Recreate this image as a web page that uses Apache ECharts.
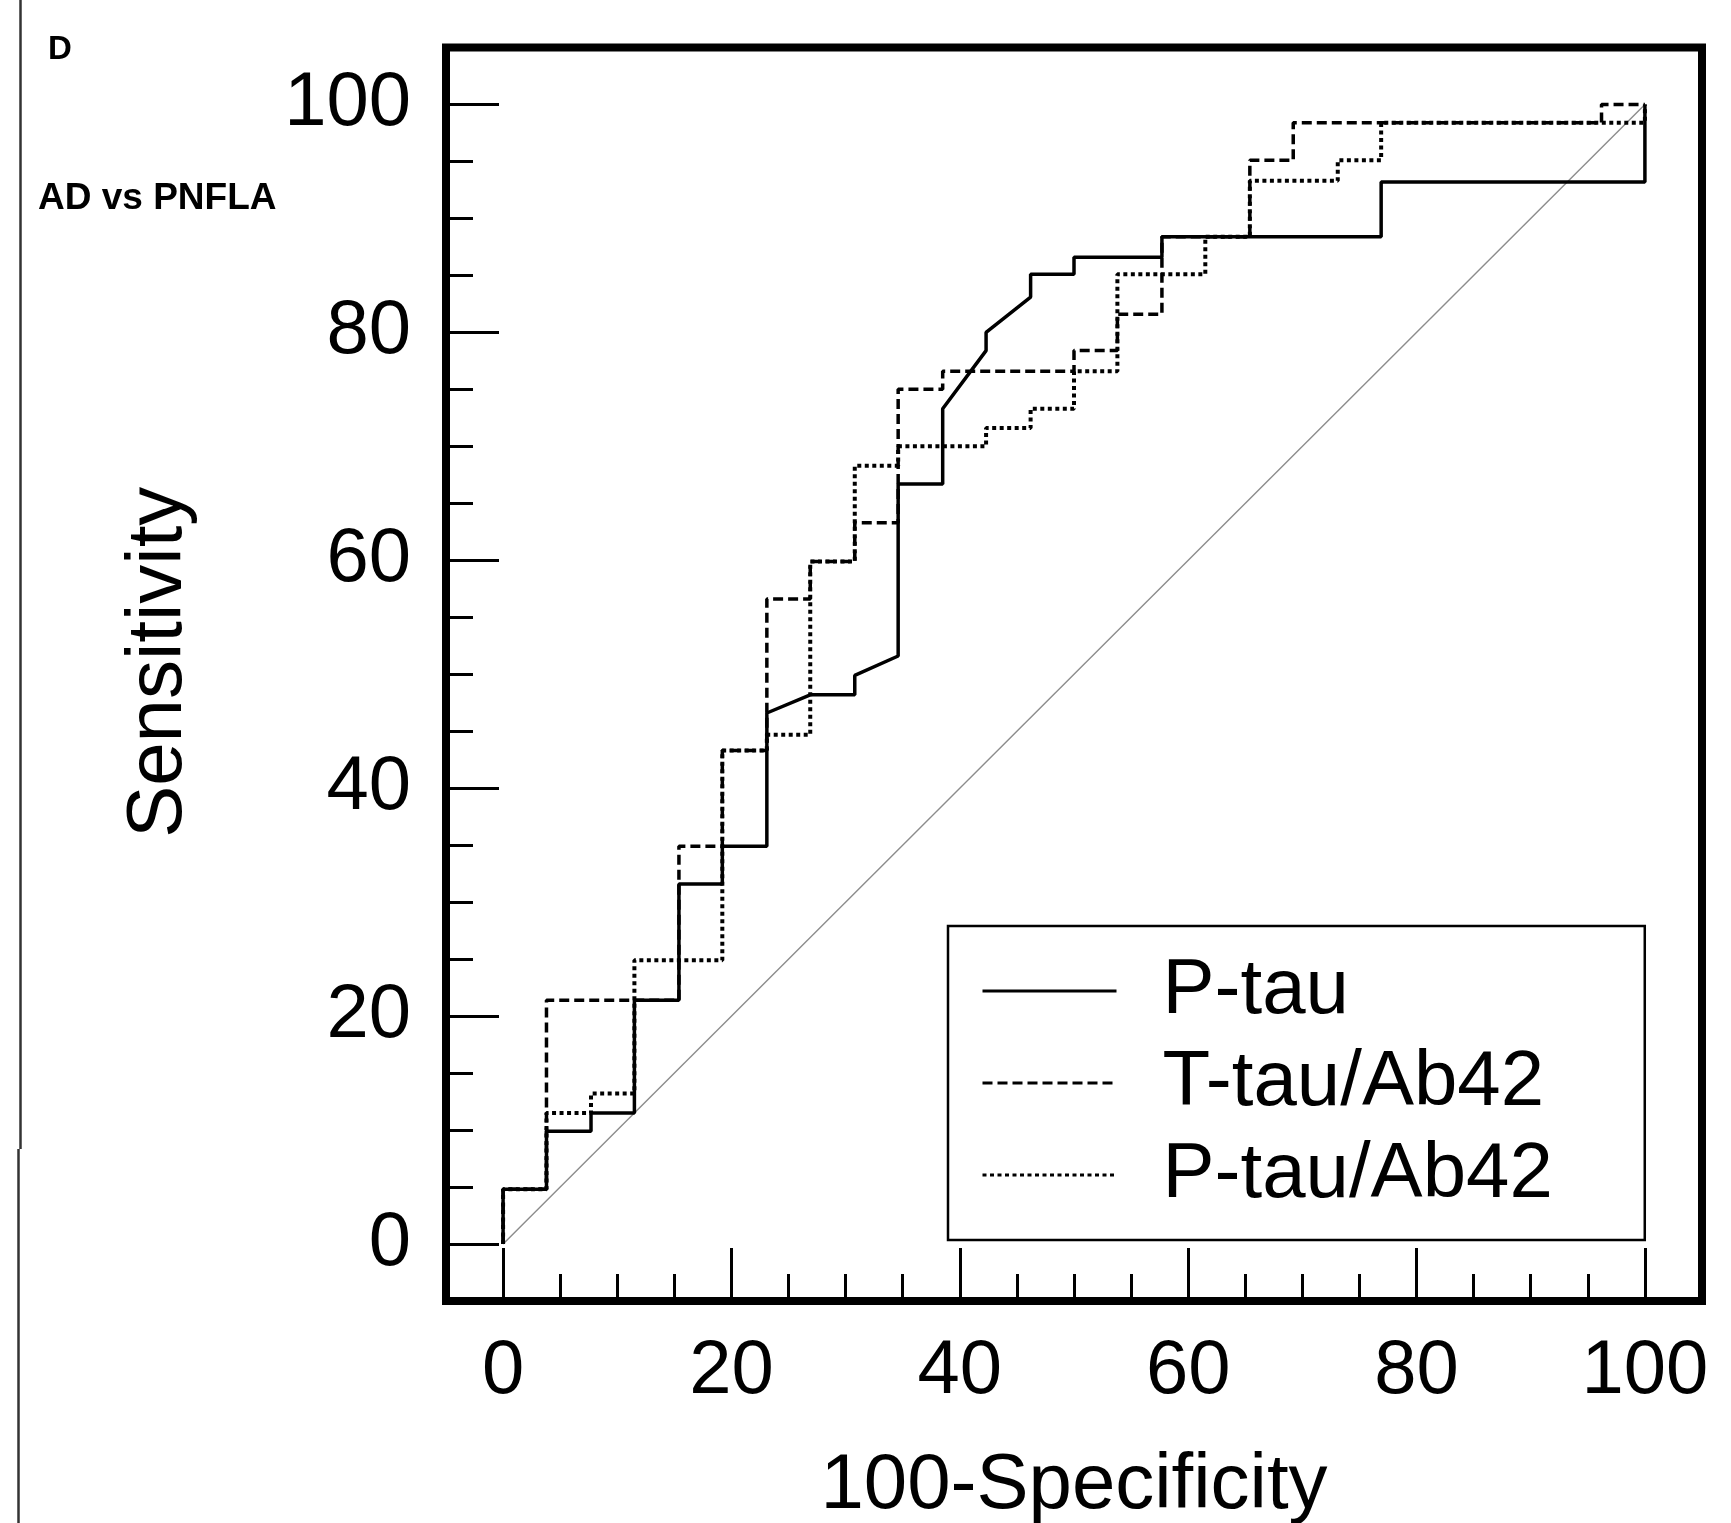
<!DOCTYPE html>
<html>
<head>
<meta charset="utf-8">
<script src="https://cdn.jsdelivr.net/npm/echarts@6/dist/echarts.min.js"></script>
<style>
  html, body { margin: 0; padding: 0; background: #fff; }
  #chart { width: 1731px; height: 1523px; }
</style>
</head>
<body>
<div id="chart"></div>
<script>
// ---- data ----
const majorTicks = [0, 20, 40, 60, 80, 100];
const minorTicks = [5, 10, 15, 25, 30, 35, 45, 50, 55, 65, 70, 75, 85, 90, 95];

const seriesNames = ['P-tau', 'T-tau/Ab42', 'P-tau/Ab42'];

const pTauX = [0, 0, 3.8, 3.8, 7.7, 7.7, 11.5, 11.5, 15.4, 15.4, 19.2, 19.2, 23.1, 23.1, 26.9, 30.8, 30.8, 34.6, 34.6, 38.5, 38.5, 42.3, 42.3, 46.2, 46.2, 50.0, 50.0, 57.7, 57.7, 76.9, 76.9, 100, 100];
const pTauY = [0, 4.8, 4.8, 9.9, 9.9, 11.5, 11.5, 21.4, 21.4, 31.6, 31.6, 34.9, 34.9, 46.6, 48.2, 48.2, 49.9, 51.6, 66.7, 66.7, 73.3, 78.4, 80.0, 83.1, 85.1, 85.1, 86.6, 86.6, 88.4, 88.4, 93.2, 93.2, 100];

const tTauAbX = [0, 0, 3.8, 3.8, 15.4, 15.4, 19.2, 19.2, 23.1, 23.1, 26.9, 26.9, 30.8, 30.8, 34.6, 34.6, 38.5, 38.5, 50.0, 50.0, 53.8, 53.8, 57.7, 57.7, 65.4, 65.4, 69.2, 69.2, 96.2, 96.2, 100];
const tTauAbY = [0, 4.8, 4.8, 21.4, 21.4, 34.9, 34.9, 43.3, 43.3, 56.6, 56.6, 59.9, 59.9, 63.3, 63.3, 75.0, 75.0, 76.6, 76.6, 78.4, 78.4, 81.6, 81.6, 88.4, 88.4, 95.1, 95.1, 98.4, 98.4, 100, 100];

const pTauAbX = [0, 0, 3.8, 3.8, 7.7, 7.7, 11.5, 11.5, 19.2, 19.2, 23.1, 23.1, 26.9, 26.9, 30.8, 30.8, 34.6, 34.6, 42.3, 42.3, 46.2, 46.2, 50.0, 50.0, 53.8, 53.8, 61.5, 61.5, 65.4, 65.4, 73.1, 73.1, 76.9, 76.9, 100, 100];
const pTauAbY = [0, 4.8, 4.8, 11.5, 11.5, 13.2, 13.2, 24.9, 24.9, 43.3, 43.3, 44.7, 44.7, 59.9, 59.9, 68.3, 68.3, 70.0, 70.0, 71.6, 71.6, 73.3, 73.3, 76.6, 76.6, 85.1, 85.1, 88.4, 88.4, 93.3, 93.3, 95.1, 95.1, 98.4, 98.4, 100];

const refX = [0, 100];
const refY = [0, 100];

// ---- build ----
const zip = (xs, ys) => xs.map((x, i) => [x, ys[i]]);
const FONT = 'Liberation Sans';

const chart = echarts.init(document.getElementById('chart'), null, { renderer: 'canvas' });

function majorAxis(extra, labelMargin) {
  return Object.assign({
    type: 'value', min: -5, max: 105,
    axisLine: { show: false, onZero: false },
    splitLine: { show: false },
    axisTick: { show: true, inside: true, length: 53, customValues: majorTicks,
                lineStyle: { color: '#000', width: 3 } },
    axisLabel: { show: true, customValues: majorTicks, fontSize: 76, color: '#000',
                 fontFamily: FONT, margin: labelMargin },
    nameLocation: 'middle'
  }, extra);
}
function minorAxis(extra) {
  return Object.assign({
    type: 'value', min: -5, max: 105,
    axisLine: { show: false, onZero: false },
    splitLine: { show: false },
    axisTick: { show: true, inside: true, length: 27, customValues: minorTicks,
                lineStyle: { color: '#000', width: 3 } },
    axisLabel: { show: false }
  }, extra);
}

const option = {
  animation: false,
  backgroundColor: '#fff',
  title: [
    { text: 'D', left: 48, top: 33, padding: 0,
      textStyle: { fontSize: 33, fontWeight: 'bold', color: '#000', fontFamily: FONT } },
    { text: 'AD vs PNFLA', left: 38, top: 180, padding: 0,
      textStyle: { fontSize: 37, fontWeight: 'bold', color: '#000', fontFamily: FONT } }
  ],
  grid: {
    left: 446, right: 29, top: 47.5, bottom: 222,
    show: true, borderColor: '#000', borderWidth: 8, backgroundColor: 'transparent',
    containLabel: false, outerBoundsMode: 'none'
  },
  xAxis: [
    majorAxis({ position: 'bottom', name: '100-Specificity', nameGap: 146,
                nameTextStyle: { fontSize: 78, color: '#000', fontFamily: FONT } }, 33),
    minorAxis({ position: 'bottom' })
  ],
  yAxis: [
    majorAxis({ position: 'left', name: 'Sensitivity', nameGap: 248,
                nameTextStyle: { fontSize: 78, color: '#000', fontFamily: FONT, padding: [0, 0, 0, 24] } }, 35),
    minorAxis({ position: 'left' })
  ],
  legend: {
    data: seriesNames,
    orient: 'vertical',
    left: 948, top: 926,
    padding: [26, 92, 26, 33],
    itemWidth: 134, itemHeight: 20, itemGap: 14,
    borderColor: '#000', borderWidth: 2.5,
    backgroundColor: '#fff',
    selectedMode: false,
    itemStyle: { color: 'rgba(0,0,0,0)', borderWidth: 0, opacity: 0 },
    lineStyle: { width: 3 },
    textStyle: { fontSize: 78, lineHeight: 78, color: '#000', fontFamily: FONT, padding: [0, 0, 0, 41] }
  },
  graphic: [
    { type: 'line', shape: { x1: 20.5, y1: 0, x2: 20.5, y2: 1149 }, style: { stroke: '#333', lineWidth: 2.5 } },
    { type: 'line', shape: { x1: 18.5, y1: 1149, x2: 18.5, y2: 1523 }, style: { stroke: '#333', lineWidth: 2.5 } }
  ],
  series: [
    { name: 'ref', type: 'line', data: zip(refX, refY), symbol: 'none', silent: true,
      lineStyle: { color: '#8c8c8c', width: 1.4 }, z: 1 },
    { name: seriesNames[0], type: 'line', data: zip(pTauX, pTauY), symbol: 'none',
      lineStyle: { color: '#000', width: 3.5, type: 'solid' }, z: 3 },
    { name: seriesNames[1], type: 'line', data: zip(tTauAbX, tTauAbY), symbol: 'none',
      lineStyle: { color: '#000', width: 3.5, type: [10, 5] }, z: 3 },
    { name: seriesNames[2], type: 'line', data: zip(pTauAbX, pTauAbY), symbol: 'none',
      lineStyle: { color: '#000', width: 4, type: [4, 3.5] }, z: 3 }
  ]
};
chart.setOption(option);
</script>
</body>
</html>
